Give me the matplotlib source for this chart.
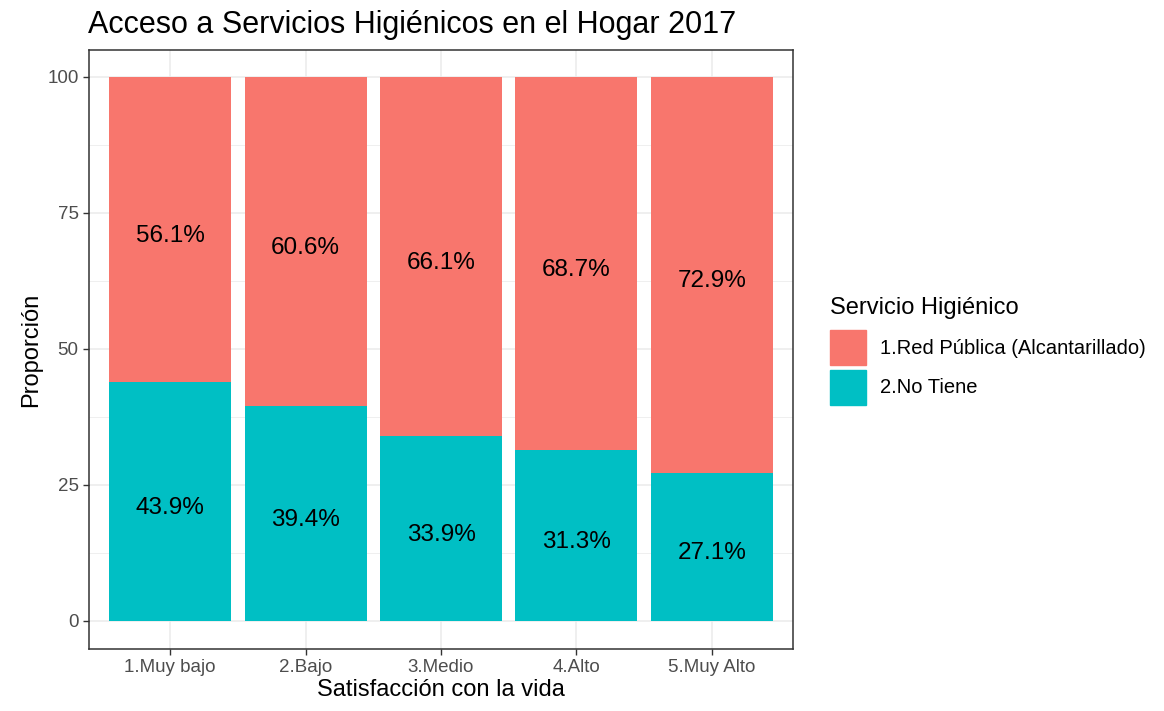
import numpy as np
import matplotlib.pyplot as plt
from matplotlib.patches import Rectangle

plt.rcParams["font.family"] = ["Liberation Sans", "DejaVu Sans"]

categorias = ["1.Muy bajo", "2.Bajo", "3.Medio", "4.Alto", "5.Muy Alto"]
red_publica = [56.1, 60.6, 66.1, 68.7, 72.9]
no_tiene = [43.9, 39.4, 33.9, 31.3, 27.1]
series = ["1.Red Pública (Alcantarillado)", "2.No Tiene"]
colores = ["#F8766D", "#00BFC4"]

fig = plt.figure(figsize=(11.64, 7.11), dpi=100)
ax = fig.add_axes([89 / 1164, 1 - 649 / 711, 704 / 1164, 599 / 711])

x = np.arange(1, len(categorias) + 1)
ax.bar(x, no_tiene, width=0.9, color=colores[1], zorder=2)
ax.bar(x, red_publica, width=0.9, bottom=no_tiene, color=colores[0], zorder=2)

for xi, a, b in zip(x, no_tiene, red_publica):
    for yc, v in [(a / 2, a), (a + b / 2, b)]:
        ax.annotate(f"{v:.1f}%", (xi, yc), xytext=(0, -4.5), textcoords="offset points",
                    ha="center", va="center", fontsize=17.5, zorder=3)

ax.set_xlim(0.4, 5.6)
ax.set_ylim(-5.2, 104.9)
ax.set_xticks(x)
ax.set_xticklabels(categorias)
ax.set_yticks([0, 25, 50, 75, 100])
ax.set_yticks([12.5, 37.5, 62.5, 87.5], minor=True)
ax.grid(which="major", color="#EBEBEB", linewidth=1.1, zorder=0)
ax.grid(which="minor", axis="y", color="#EBEBEB", linewidth=0.55, zorder=0)
ax.set_axisbelow(True)
ax.tick_params(which="major", labelsize=13.5, labelcolor="#4D4D4D", color="#333333",
               length=4, width=1)
ax.tick_params(which="minor", length=0)
for s in ax.spines.values():
    s.set_color("#333333")
    s.set_linewidth(1.1)

ax.set_xlabel("Satisfacción con la vida", fontsize=17, labelpad=2)
ax.set_ylabel("Proporción", fontsize=17, labelpad=4)
ax.set_title("Acceso a Servicios Higiénicos en el Hogar 2017", fontsize=22,
             loc="left", x=-0.002, pad=12)

# leyenda al estilo ggplot
fig.text(830 / 1164, 1 - 308 / 711, "Servicio Higiénico", fontsize=17, va="center")
for i, (nom, col) in enumerate(zip(series, colores)):
    y0 = 330 + i * 40
    fig.patches.append(Rectangle((830 / 1164, 1 - (y0 + 35) / 711), 36 / 1164, 35 / 711,
                                 transform=fig.transFigure, color=col))
    fig.text(880 / 1164, 1 - (y0 + 18) / 711, nom, fontsize=14.5, va="center")

fig.savefig("out.png", dpi=100)
